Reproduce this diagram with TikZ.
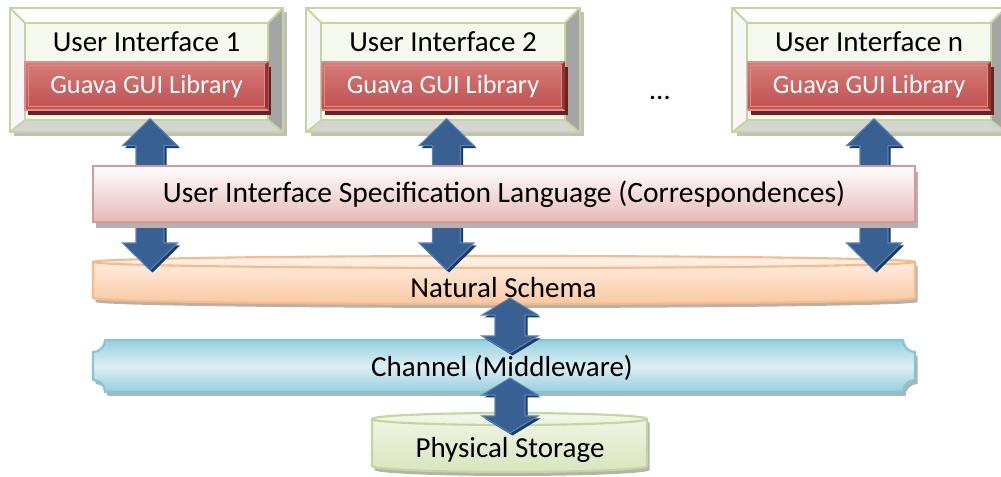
\documentclass[tikz,border=0pt]{standalone}
\usepackage{fontspec}
\setmainfont{Carlito}
\usetikzlibrary{calc,shadows}

\definecolor{uiline}{RGB}{195,214,155}
\definecolor{uiface}{RGB}{244,248,237}
\definecolor{uiright}{RGB}{165,165,165}
\definecolor{uibottom}{RGB}{212,212,212}
\definecolor{guired}{RGB}{192,80,77}
\definecolor{guilight}{RGB}{212,124,122}
\definecolor{guiline}{RGB}{222,140,138}
\definecolor{guiedge}{RGB}{150,52,50}
\definecolor{guidark}{RGB}{99,37,35}
\definecolor{specline}{RGB}{217,150,148}
\definecolor{specfill}{RGB}{230,185,184}
\definecolor{natline}{RGB}{248,186,135}
\definecolor{natlight}{RGB}{253,242,233}
\definecolor{natdark}{RGB}{251,200,160}
\definecolor{chline}{RGB}{130,198,216}
\definecolor{chlight}{RGB}{221,239,244}
\definecolor{chdark}{RGB}{150,207,222}
\definecolor{stline}{RGB}{195,214,155}
\definecolor{stlight}{RGB}{242,246,232}
\definecolor{stdark}{RGB}{216,229,190}
\definecolor{arrowblue}{RGB}{56,96,146}
\definecolor{arrowline}{RGB}{84,132,190}
\definecolor{arrowshadow}{RGB}{33,58,92}

\tikzset{
  dblarrow/.style n args={3}{to path={let \p1=(\tikztostart), \p2=(\tikztotarget) in
    (\x1,\y1) -- (\x1+#1,\y1-#3) -- (\x1+#2,\y1-#3) -- (\x1+#2,\y2+#3) -- (\x1+#1,\y2+#3)
    -- (\x1,\y2) -- (\x1-#1,\y2+#3) -- (\x1-#2,\y2+#3) -- (\x1-#2,\y1-#3) -- (\x1-#1,\y1-#3) -- cycle}},
}

\begin{document}
\begin{tikzpicture}[
    font=\fontsize{16.5}{20}\selectfont,
    uibox/.style={minimum width=5.46cm, minimum height=2.48cm, inner sep=0pt, fill=uiface,
      drop shadow={shadow xshift=0.08cm, shadow yshift=-0.08cm, fill=gray!50, opacity=1}},
    guibox/.style={minimum width=4.86cm, minimum height=0.96cm, inner sep=0pt, text=white,
      font=\fontsize{15}{18}\selectfont, top color=guilight, bottom color=guired,
      draw=guiline, line width=0.8pt,
      drop shadow={shadow xshift=0.06cm, shadow yshift=-0.1cm, fill=guidark, opacity=1}},
    specbox/.style={minimum width=16.44cm, minimum height=1.12cm, inner sep=0pt,
      font=\fontsize{16.8}{20}\selectfont,
      top color=white, bottom color=specfill, draw=specline, line width=1.2pt,
      drop shadow={shadow xshift=0.06cm, shadow yshift=-0.12cm, fill=gray!60, opacity=1}},
    layershadow/.style={drop shadow={shadow xshift=0.05cm, shadow yshift=-0.08cm, fill=gray!60, opacity=1}},
    bigarrow/.style={dblarrow={0.55cm}{0.28cm}{0.54cm}, fill=arrowblue, draw=arrowline, line width=0.6pt,
      drop shadow={shadow xshift=0.05cm, shadow yshift=-0.05cm, fill=arrowshadow, opacity=1}},
    smallarrow/.style={dblarrow={0.56cm}{0.30cm}{0.34cm}, fill=arrowblue, draw=arrowline, line width=0.6pt,
      drop shadow={shadow xshift=0.05cm, shadow yshift=-0.05cm, fill=arrowshadow, opacity=1}},
  ]
  \useasboundingbox (0,0) rectangle (20.02,9.54);

  % User interfaces
  \node[uibox] (ui1) at (2.93,8.14) {};
  \node[uibox] (ui2) at (8.86,8.14) {};
  \node[uibox] (uin) at (17.38,8.14) {};
  \foreach \n in {ui1,ui2,uin} {
    \fill[white] (\n.north west) -- (\n.north east) -- ([shift={(-0.3,-0.3)}]\n.north east) -- ([shift={(0.3,-0.3)}]\n.north west) -- cycle;
    \fill[white!97!black] (\n.north west) -- ([shift={(0.3,-0.3)}]\n.north west) -- ([shift={(0.3,0.24)}]\n.south west) -- (\n.south west) -- cycle;
    \fill[uiright] (\n.north east) -- (\n.south east) -- ([shift={(-0.3,0.24)}]\n.south east) -- ([shift={(-0.3,-0.3)}]\n.north east) -- cycle;
    \fill[uibottom] (\n.south west) -- (\n.south east) -- ([shift={(-0.3,0.24)}]\n.south east) -- ([shift={(0.3,0.24)}]\n.south west) -- cycle;
    \draw[uiline, line width=1.1pt] (\n.north west) rectangle (\n.south east);
    \draw[uiline, line width=1.1pt] ([shift={(0.3,-0.3)}]\n.north west) rectangle ([shift={(-0.3,0.24)}]\n.south east);
    \draw[uiline, line width=1.1pt] (\n.north west) -- ++(0.3,-0.3) (\n.north east) -- ++(-0.3,-0.3)
      (\n.south west) -- ++(0.3,0.24) (\n.south east) -- ++(-0.3,0.24);
  }
  \node (t1) at (2.93,8.70) {User Interface 1};
  \node (t2) at (8.86,8.70) {User Interface 2};
  \node (tn) at (17.38,8.70) {User Interface n};

  % Guava library
  \node[guibox] (g1) at (2.93,7.82) {Guava GUI Library};
  \node[guibox] (g2) at (8.86,7.82) {Guava GUI Library};
  \node[guibox] (gn) at (17.38,7.82) {Guava GUI Library};
  \foreach \n in {g1,g2,gn} {
    \fill[guiedge] (\n.north east) -- (\n.south east) -- ([shift={(-0.08,0.08)}]\n.south east) -- ([shift={(-0.08,-0.08)}]\n.north east) -- cycle;
    \draw[guiline, line width=0.5pt] ([shift={(0.08,-0.08)}]\n.north west) rectangle ([shift={(-0.08,0.08)}]\n.south east);
  }
  \node (dots) at (13.2,7.58) {…};

  % Natural schema
  \draw[layershadow, top color=natlight, bottom color=natdark, draw=natline, line width=1.2pt]
    (1.86,4.30) -- (1.86,3.58) arc[start angle=180, end angle=360, x radius=8.22, y radius=0.12]
    -- (18.30,4.30) arc[start angle=0, end angle=180, x radius=8.22, y radius=0.12] -- cycle;
  \draw[natline, line width=1.2pt] (1.86,4.30) arc[start angle=180, end angle=360, x radius=8.22, y radius=0.12];
  \node (nat) at (10.07,3.78) {Natural Schema};

  % Channel
  \draw[layershadow, top color=chdark, bottom color=chdark, middle color=chlight, draw=chline, line width=1.2pt]
    (2.10,2.74) -- (18.06,2.74) arc[start angle=180, end angle=270, radius=0.24]
    -- (18.30,1.94) arc[start angle=90, end angle=180, radius=0.24]
    -- (2.10,1.70) arc[start angle=0, end angle=90, radius=0.24]
    -- (1.86,2.50) arc[start angle=-90, end angle=0, radius=0.24] -- cycle;
  \node (ch) at (10.04,2.18) {Channel (Middleware)};

  % Physical storage
  \draw[layershadow, top color=stlight, bottom color=stdark, draw=stline, line width=1.2pt]
    (7.44,1.16) -- (7.44,0.22) arc[start angle=180, end angle=360, x radius=2.75, y radius=0.12]
    -- (12.94,1.16) arc[start angle=0, end angle=180, x radius=2.75, y radius=0.12] -- cycle;
  \draw[stline, line width=1.2pt] (7.44,1.16) arc[start angle=180, end angle=360, x radius=2.75, y radius=0.12];
  \node (st) at (10.20,0.54) {Physical Storage};

  % arrows through the specification
  \draw[bigarrow] ($(g1.south)+(0.07,-0.16)$) to ($(g1.south |- nat.center)+(0.07,0.36)$);
  \draw[bigarrow] ($(g2.south)+(0.07,-0.16)$) to ($(g2.south |- nat.center)+(0.07,0.36)$);
  \draw[bigarrow] ($(gn.south)+(0.10,-0.16)$) to ($(gn.south |- nat.center)+(0.10,0.36)$);

  \node[specbox] (spec) at (10.08,5.66) {User Interface Specification Language (Correspondences)};

  \draw[smallarrow] ($(nat.center)+(0.13,-0.20)$) to ($(nat.center |- ch.center)+(0.13,0.30)$);
  \draw[smallarrow] ($(ch.center)+(0.16,-0.20)$) to ($(ch.center |- st.center)+(0.16,0.34)$);
\end{tikzpicture}
\end{document}
